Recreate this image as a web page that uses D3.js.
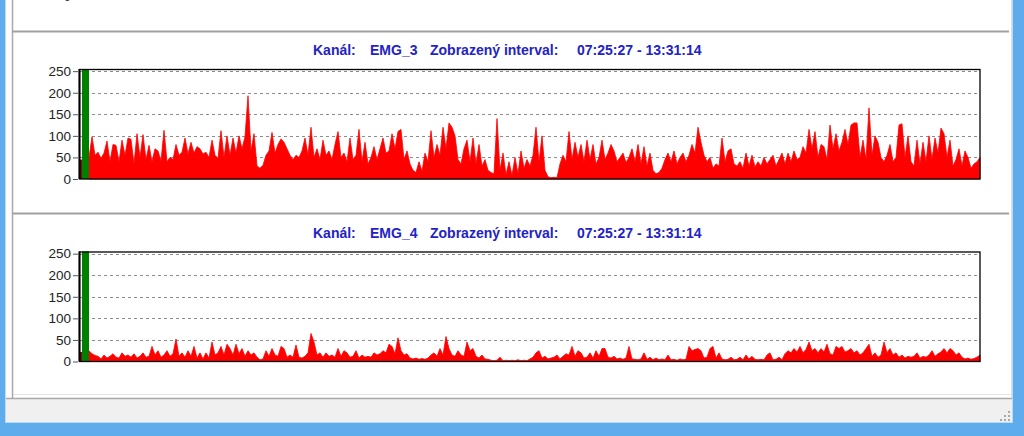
<!DOCTYPE html>
<html><head><meta charset="utf-8">
<script src="https://cdn.jsdelivr.net/npm/d3@7"></script>
<style>html,body{margin:0;padding:0;background:#fff;overflow:hidden}</style>
</head><body>
<svg id="c" width="1024" height="436"></svg>
<script>
// ---- data ----
const channels = ["EMG_3", "EMG_4"];
const intervalLabel = "07:25:27 - 13:31:14";
const yTicks = [0, 50, 100, 150, 200, 250];
const yMax = 255;
// samples before the cursor (index 0) and cursor span in sample units
const preCursor = [45, 22];
const cursorSpan = [0.67, 3];
const emg3 = [
 50,98,55,62,48,60,88,40,80,78,
 40,90,55,95,92,35,105,50,103,45,
 78,40,70,65,42,113,40,50,45,80,
 55,62,95,58,85,60,75,70,58,62,
 50,90,55,48,112,50,100,55,95,60,
 100,70,98,193,65,105,30,25,32,55,
 65,108,60,80,93,85,70,55,45,55,
 50,65,95,55,120,50,70,45,90,55,
 65,45,80,110,50,60,40,95,45,55,
 115,40,85,35,50,75,45,70,95,60,
 65,105,70,110,115,45,65,35,20,15,
 40,18,60,40,112,50,80,55,120,70,
 130,120,100,45,35,70,90,40,95,35,
 80,30,45,20,15,12,140,20,60,10,
 40,8,50,12,65,25,45,30,55,120,
 40,100,20,5,3,4,3,35,55,40,
 110,45,85,50,80,40,90,45,80,35,
 50,90,45,60,80,65,40,50,60,38,
 50,70,40,80,35,75,30,60,20,12,
 15,25,45,60,40,65,35,50,60,40,
 55,80,60,120,85,55,40,50,25,35,
 30,95,40,65,70,35,30,40,25,60,
 30,55,28,40,30,50,35,45,55,30,
 45,60,35,60,40,65,45,50,75,60,
 115,70,110,50,80,75,45,125,70,105,
 65,85,115,80,125,130,130,50,90,45,
 165,55,100,85,50,40,55,80,40,50,
 125,128,50,100,40,30,90,35,85,40,
 100,45,95,60,118,105,50,90,30,45,
 70,30,65,50,25,35,40,50
];
const emg4 = [
 25,18,14,12,6,15,8,12,18,10,
 8,20,12,15,10,18,8,12,20,10,
 12,35,15,25,10,15,25,12,18,52,
 12,20,10,25,12,35,8,20,6,20,
 8,45,15,20,35,15,40,30,15,40,
 18,30,12,25,15,20,10,4,6,25,
 12,30,15,12,35,30,10,15,10,38,
 10,8,12,20,65,45,15,20,10,20,
 12,15,10,30,12,25,20,10,12,25,
 8,15,10,12,10,20,15,18,25,20,
 40,35,18,55,25,15,18,8,6,8,
 5,7,5,8,15,20,12,30,15,58,
 30,15,12,25,15,12,45,25,30,12,
 8,15,6,5,3,2,3,10,2,3,
 2,3,2,4,2,3,2,6,10,20,
 25,8,12,6,8,10,15,6,12,18,
 15,35,12,25,20,8,10,20,8,25,
 12,30,30,10,8,12,6,8,5,8,
 35,6,5,4,6,20,5,10,4,8,
 4,6,4,15,4,5,3,6,4,5,
 35,25,28,30,25,8,10,30,35,8,
 20,6,4,5,10,4,5,10,4,15,
 6,12,5,4,5,4,15,20,4,5,
 10,4,18,25,20,30,22,35,20,28,
 45,25,30,20,30,22,40,18,15,35,
 30,35,22,25,30,20,25,15,20,30,
 40,12,20,10,15,45,20,30,15,20,
 10,15,8,12,10,12,20,8,12,10,
 15,25,12,18,22,30,20,30,25,15,
 20,10,6,8,5,7,10,15
];
const series = [emg3, emg4];

// ---- layout ----
const W = 1024, H = 436;
const plotLeft = 80, plotRight = 980, plotH = 110;
const panelTops = [31, 213];
const plotTops = [69, 251.5];
const fontTick = "'Liberation Sans', Arial, sans-serif";

const svg = d3.select("#c");

// window frame
svg.append("rect").attr("x",0).attr("y",0).attr("width",W).attr("height",H).attr("fill","#ffffff");
// status bar
svg.append("rect").attr("x",5).attr("y",399).attr("width",1008).attr("height",24).attr("fill","#f0f0f0");
svg.append("line").attr("x1",12).attr("x2",1012).attr("y1",394.5).attr("y2",394.5).attr("stroke","#e4e4e4");
svg.append("line").attr("x1",5).attr("x2",1013).attr("y1",398.5).attr("y2",398.5).attr("stroke","#a8a8a8").attr("stroke-width",1.5);
// left vertical gray
svg.append("line").attr("x1",12.5).attr("x2",12.5).attr("y1",0).attr("y2",398).attr("stroke","#a8a8a8").attr("stroke-width",1.5);
svg.append("line").attr("x1",1011.5).attr("x2",1011.5).attr("y1",0).attr("y2",398).attr("stroke","#dcdcdc").attr("stroke-width",1);
// blue borders
const blue = "#5eaceb";
svg.append("rect").attr("x",0).attr("y",0).attr("width",5).attr("height",H).attr("fill",blue);
svg.append("rect").attr("x",1013).attr("y",0).attr("width",11).attr("height",H).attr("fill",blue);
svg.append("rect").attr("x",0).attr("y",423).attr("width",W).attr("height",13).attr("fill",blue);
svg.append("line").attr("x1",5.5).attr("x2",5.5).attr("y1",0).attr("y2",423).attr("stroke","#b9dcf6");
svg.append("line").attr("x1",1012.5).attr("x2",1012.5).attr("y1",0).attr("y2",423).attr("stroke","#b9dcf6");
svg.append("line").attr("x1",5).attr("x2",1013).attr("y1",422.5).attr("y2",422.5).attr("stroke","#b9dcf6");
// size grip dots
const grip = [[1008,411],[1004,415],[1008,415],[1000,419],[1004,419],[1008,419]];
svg.selectAll("rect.grip").data(grip).enter().append("rect").attr("class","grip")
  .attr("x",d=>d[0]).attr("y",d=>d[1]).attr("width",2).attr("height",2).attr("fill","#a9a9a9");

// panel separator lines
panelTops.forEach(t=>{
  svg.append("line").attr("x1",12).attr("x2",1009).attr("y1",t+0.5).attr("y2",t+0.5)
    .attr("stroke","#a0a0a0").attr("stroke-width",2);
});

// leftover "0" tick label of the panel above
svg.append("text").attr("x",71).attr("y",-3.5).attr("dy","0.32em").attr("text-anchor","end")
  .attr("font-family",fontTick).attr("font-size",13.5).attr("fill","#222").text("0");

const x = d3.scaleLinear().domain([0, 300]).range([plotLeft, plotRight]);

series.forEach((data, k) => {
  const top = plotTops[k], bottom = top + plotH;
  const y = d3.scaleLinear().domain([0, yMax]).range([bottom, top]);
  const g = svg.append("g");

  // title
  const t = g.append("text").attr("y", top - 14).attr("font-family","'Liberation Sans', Arial, sans-serif")
    .attr("font-weight","bold").attr("font-size",14).attr("fill","#2323c4");
  t.append("tspan").attr("x",313).text("Kanál:");
  t.append("tspan").attr("x",370).text(channels[k]);
  t.append("tspan").attr("x",430).text("Zobrazený interval:");
  t.append("tspan").attr("x",577).text(intervalLabel);

  // grid
  g.selectAll("line.grid").data(yTicks.filter(v=>v>0)).enter().append("line").attr("class","grid")
    .attr("x1",plotLeft).attr("x2",plotRight).attr("y1",d=>Math.round(y(d))+0.5).attr("y2",d=>Math.round(y(d))+0.5)
    .attr("stroke","#8c8c8c").attr("stroke-width",1).attr("stroke-dasharray","3,3");

  // axis
  const ax = g.append("g").attr("transform","translate(78,0)")
    .call(d3.axisLeft(y).tickValues(yTicks).tickSize(5).tickPadding(2));
  ax.select(".domain").remove();
  ax.selectAll("line").attr("stroke","#555");
  ax.selectAll("text").attr("font-family",fontTick).attr("font-size",13.5).attr("fill","#222");

  // series
  const area = d3.area().x((d,i)=>x(i + cursorSpan[1])).y0(y(0)).y1(d=>y(d));
  g.append("path").datum(data).attr("d",area).attr("fill","#ff0000")
    .attr("stroke","#ff0000").attr("stroke-width",0.8).attr("stroke-linejoin","miter");

  // before cursor
  g.append("rect").attr("x",x(0)).attr("width",x(cursorSpan[0])-x(0))
    .attr("y",y(preCursor[k])).attr("height",y(0)-y(preCursor[k])).attr("fill","#6e1212");
  // cursor
  g.append("rect").attr("x",x(cursorSpan[0])).attr("width",x(cursorSpan[1])-x(cursorSpan[0]))
    .attr("y",y(yMax)).attr("height",y(0)-y(yMax)).attr("fill","#008000");

  // frame
  g.append("rect").attr("x",plotLeft-0.5).attr("y",top+0.5).attr("width",plotRight-plotLeft+0.5).attr("height",plotH-0.5)
    .attr("fill","none").attr("stroke","#000").attr("stroke-width",1.3);
  g.append("line").attr("x1",plotLeft-0.5).attr("x2",plotLeft-0.5).attr("y1",top).attr("y2",bottom)
    .attr("stroke","#000").attr("stroke-width",2);
});
</script>
</body></html>
